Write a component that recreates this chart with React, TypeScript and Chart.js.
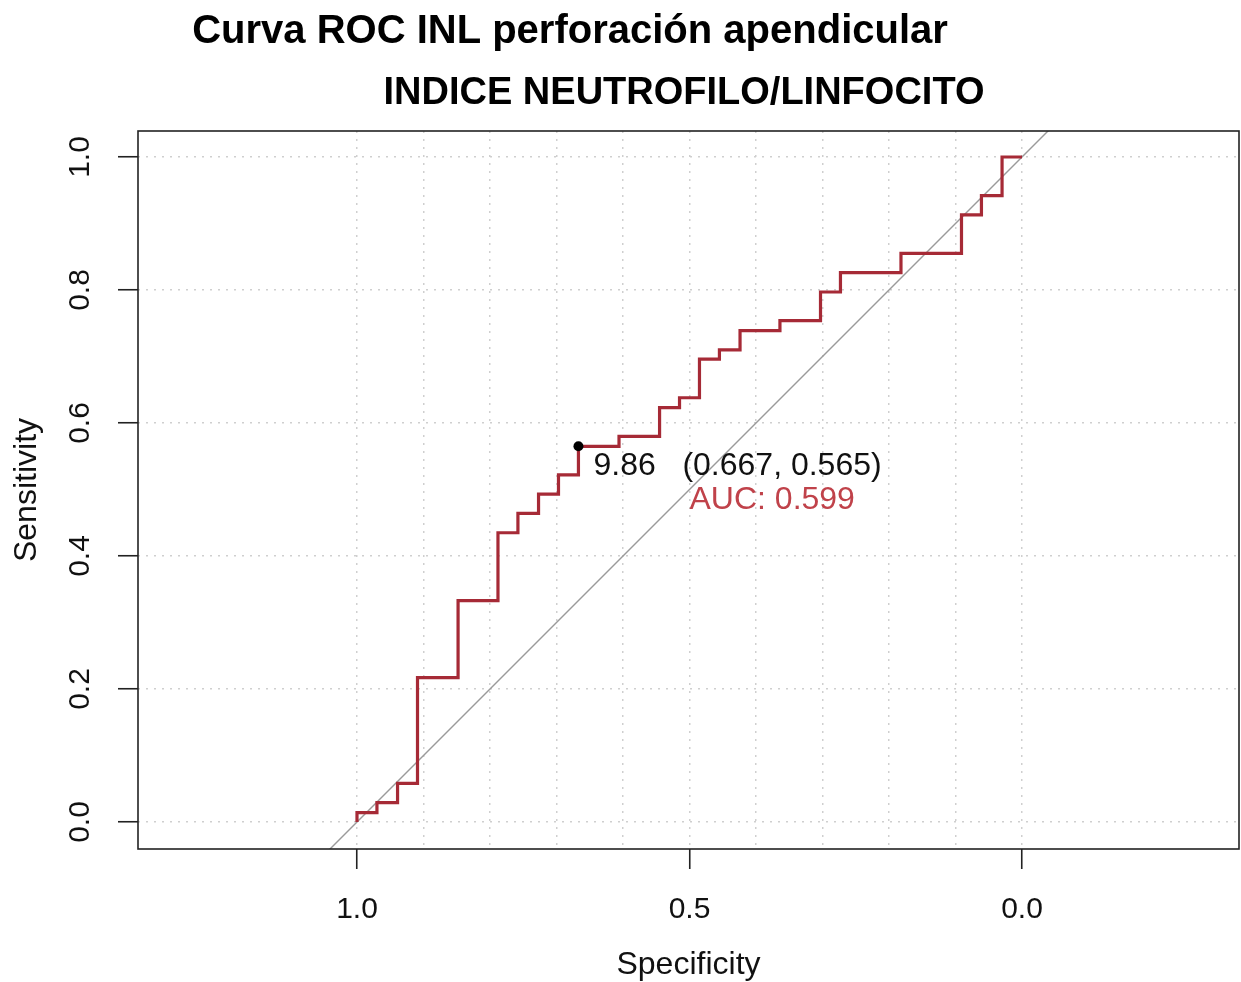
import React, { useEffect, useRef } from 'react';
import { Chart, registerables } from 'chart.js';

Chart.register(...registerables);

// ROC curve corners (specificity, sensitivity)
const rocSpecificity = [
  1.0, 1.0, 0.97, 0.97, 0.939, 0.939, 0.909, 0.909, 0.848, 0.848, 0.788, 0.788,
  0.758, 0.758, 0.727, 0.727, 0.697, 0.697, 0.667, 0.667, 0.606, 0.606, 0.545, 0.545,
  0.515, 0.515, 0.485, 0.485, 0.455, 0.455, 0.424, 0.424, 0.364, 0.364, 0.303, 0.303,
  0.273, 0.273, 0.182, 0.182, 0.091, 0.091, 0.061, 0.061, 0.03, 0.03, 0.0,
];
const rocSensitivity = [
  0.0, 0.014, 0.014, 0.029, 0.029, 0.058, 0.058, 0.217, 0.217, 0.333, 0.333, 0.435,
  0.435, 0.464, 0.464, 0.493, 0.493, 0.522, 0.522, 0.565, 0.565, 0.58, 0.58, 0.623,
  0.623, 0.638, 0.638, 0.696, 0.696, 0.71, 0.71, 0.739, 0.739, 0.754, 0.754, 0.797,
  0.797, 0.826, 0.826, 0.855, 0.855, 0.913, 0.913, 0.942, 0.942, 1.0, 1.0,
];

const bestThreshold = 9.86;
const bestSpecificity = 0.667;
const bestSensitivity = 0.565;
const aucValue = 0.599;
const aucLabelSpecificity = 0.5;
const aucLabelSensitivity = 0.5;

const diagonalSpecificity = [1.6, -0.6];
const diagonalSensitivity = [-0.6, 1.6];

const xTickLabels = [1.0, 0.5, 0.0];
const xGridValues = [0.0, 0.1, 0.2, 0.3, 0.4, 0.5, 0.6, 0.7, 0.8, 0.9, 1.0];
const yTickValues = [0.0, 0.2, 0.4, 0.6, 0.8, 1.0];

const mainTitle = 'Curva ROC INL perforación apendicular';
const subTitle = 'INDICE NEUTROFILO/LINFOCITO';
const xAxisTitle = 'Specificity';
const yAxisTitle = 'Sensitivity';

const FONT = '"Liberation Sans", Arial, Helvetica, sans-serif';
const ROC_COLOR = '#A62A36';
const AUC_COLOR = '#C0424A';
const GRID_COLOR = '#cfcfcf';

const isLabelled = (v: number) => xTickLabels.some((t) => Math.abs(t - v) < 1e-9);

const decorPlugin = {
  id: 'decor',
  afterDatasetsDraw(chart: any) {
    const { ctx, chartArea: a, scales } = chart;
    const x = scales.x;
    const y = scales.y;
    ctx.save();
    // plot box
    ctx.strokeStyle = '#222';
    ctx.lineWidth = 1.6;
    ctx.strokeRect(a.left, a.top, a.right - a.left, a.bottom - a.top);

    // threshold label
    const px = x.getPixelForValue(bestSpecificity);
    const py = y.getPixelForValue(bestSensitivity);
    ctx.font = `32px ${FONT}`;
    ctx.fillStyle = '#111';
    ctx.textAlign = 'left';
    ctx.textBaseline = 'middle';
    ctx.fillText(
      `${bestThreshold.toFixed(2)}   (${bestSpecificity.toFixed(3)}, ${bestSensitivity.toFixed(3)})`,
      px + 15,
      py + 19.5
    );

    // AUC label
    ctx.fillStyle = AUC_COLOR;
    ctx.fillText(
      `AUC: ${aucValue.toFixed(3)}`,
      x.getPixelForValue(aucLabelSpecificity),
      y.getPixelForValue(aucLabelSensitivity) + 11
    );
    ctx.restore();
  },
  afterDraw(chart: any) {
    const { ctx } = chart;
    ctx.save();
    ctx.fillStyle = '#000';
    ctx.textAlign = 'center';
    ctx.textBaseline = 'alphabetic';
    ctx.font = `bold 40px ${FONT}`;
    ctx.fillText(mainTitle, 570, 43);
    ctx.font = `bold 38px ${FONT}`;
    ctx.fillText(subTitle, 684, 104);
    ctx.restore();
  },
};

export default function App() {
  const canvasRef = useRef<HTMLCanvasElement | null>(null);

  useEffect(() => {
    const canvas = canvasRef.current;
    if (!canvas) return;

    const rocPoints = rocSpecificity.map((s, i) => ({ x: s, y: rocSensitivity[i] }));
    const diagPoints = diagonalSpecificity.map((s, i) => ({ x: s, y: diagonalSensitivity[i] }));

    const chart = new Chart(canvas, {
      type: 'line',
      data: {
        datasets: [
          {
            label: 'best',
            data: [{ x: bestSpecificity, y: bestSensitivity }],
            showLine: false,
            pointRadius: 5,
            pointBackgroundColor: '#000',
            pointBorderColor: '#000',
            pointBorderWidth: 0,
            clip: false,
          } as any,
          {
            label: 'ROC',
            data: rocPoints,
            borderColor: ROC_COLOR,
            borderWidth: 3.2,
            pointRadius: 0,
            tension: 0,
            fill: false,
            clip: false,
          } as any,
          {
            label: 'chance',
            data: diagPoints,
            borderColor: '#9a9a9a',
            borderWidth: 1.4,
            pointRadius: 0,
            tension: 0,
            fill: false,
            clip: 0,
          } as any,
        ],
      },
      options: {
        responsive: false,
        animation: false,
        devicePixelRatio: 1,
        layout: { autoPadding: false, padding: { top: 131, right: 2, left: 0, bottom: 0 } },
        plugins: {
          legend: { display: false },
          tooltip: { enabled: false },
          title: { display: false },
        },
        scales: {
          x: {
            type: 'linear',
            reverse: true,
            min: -0.3263,
            max: 1.3293,
            afterBuildTicks: (s: any) => {
              s.ticks = xGridValues.map((v) => ({ value: v }));
            },
            afterFit: (s: any) => {
              s.height = 133;
              s.paddingLeft = 0;
              s.paddingRight = 0;
            },
            ticks: {
              autoSkip: false,
              minRotation: 0,
              maxRotation: 0,
              padding: 23,
              color: '#111',
              font: { family: FONT, size: 30 },
              callback: (v: any) => (isLabelled(Number(v)) ? Number(v).toFixed(1) : ''),
            },
            grid: {
              color: GRID_COLOR,
              lineWidth: 1.5,
              drawTicks: true,
              tickLength: 20,
              tickWidth: 1.6,
              tickColor: (c: any) => (c.tick && isLabelled(c.tick.value) ? '#222' : 'rgba(0,0,0,0)'),
            },
            border: { display: false, dash: [2, 6] },
            title: {
              display: true,
              text: xAxisTitle,
              color: '#111',
              font: { family: FONT, size: 32, lineHeight: 1.05 },
              padding: { top: 0, bottom: 0 },
            },
          },
          y: {
            type: 'linear',
            min: -0.0406,
            max: 1.0391,
            afterBuildTicks: (s: any) => {
              s.ticks = yTickValues.map((v) => ({ value: v }));
            },
            afterFit: (s: any) => {
              s.width = 138;
              s.paddingTop = 0;
              s.paddingBottom = 0;
            },
            ticks: {
              minRotation: 90,
              maxRotation: 90,
              crossAlign: 'center',
              padding: 16,
              color: '#111',
              font: { family: FONT, size: 30 },
              callback: (v: any) => Number(v).toFixed(1),
            },
            grid: {
              color: GRID_COLOR,
              lineWidth: 1.5,
              drawTicks: true,
              tickLength: 20,
              tickWidth: 1.6,
              tickColor: '#222',
            },
            border: { display: false, dash: [2, 6] },
            title: {
              display: true,
              text: yAxisTitle,
              color: '#111',
              font: { family: FONT, size: 32 },
              padding: { top: 8, bottom: 0 },
            },
          },
        },
      } as any,
      plugins: [decorPlugin],
    });

    return () => chart.destroy();
  }, []);

  return (
    <div style={{ position: 'absolute', left: 0, top: 0, width: 1241, height: 982, background: '#fff' }}>
      <canvas ref={canvasRef} width={1241} height={982} style={{ display: 'block' }} />
    </div>
  );
}
